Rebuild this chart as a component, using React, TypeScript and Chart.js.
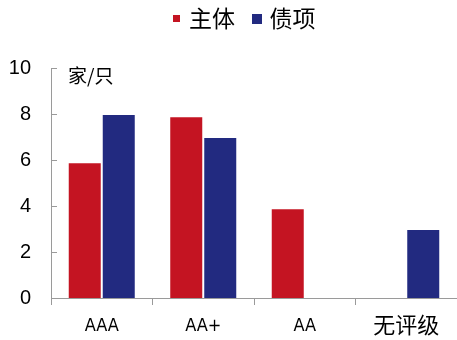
import React, { useEffect, useRef } from "react";
import { Chart, registerables } from "chart.js";

Chart.register(...registerables);

const categories = ["AAA", "AA+", "AA", "无评级"];
const seriesNames = ["主体", "债项"];
const issuerValues = [5.9, 7.9, 3.9, 0];
const bondValues = [8, 7, 0, 3];
const unitLabel = "家/只";

const RED = "#C41422";
const BLUE = "#222A80";
const AXIS = "#9a9a9a";
const FONT = "'Noto Sans CJK SC', 'Liberation Sans', sans-serif";

function swatch(color: string, size: number) {
  const c = document.createElement("canvas");
  c.width = size;
  c.height = size;
  const g = c.getContext("2d")!;
  g.fillStyle = color;
  g.fillRect(0, 0, size, size);
  return c;
}

const legendSpace = {
  id: "legendSpace",
  afterInit(chart: any) {
    const lg = chart.legend;
    if (!lg) return;
    const origFit = lg.fit;
    lg.fit = function () {
      origFit.call(this);
      this.height += 28;
    };
    const origDraw = lg.draw;
    lg.draw = function () {
      const ctx = this.ctx;
      ctx.save();
      ctx.translate(16, 0);
      origDraw.call(this);
      ctx.restore();
    };
  },
};

const innerTicks = {
  id: "innerTicks",
  afterDraw(chart: any) {
    const { ctx, scales, chartArea } = chart;
    const y = scales.y;
    ctx.save();
    ctx.strokeStyle = AXIS;
    ctx.lineWidth = 1;
    y.ticks.forEach((t: any) => {
      const py = Math.round(y.getPixelForValue(t.value)) + 0.5;
      ctx.beginPath();
      ctx.moveTo(chartArea.left, py);
      ctx.lineTo(chartArea.left + 6, py);
      ctx.stroke();
    });
    ctx.fillStyle = "#000";
    ctx.font = `19px ${FONT}`;
    ctx.textBaseline = "middle";
    ctx.textAlign = "left";
    ctx.fillText(unitLabel, chartArea.left + 17, y.getPixelForValue(9.68));
    ctx.restore();
  },
};

export default function App() {
  const ref = useRef<HTMLCanvasElement>(null);
  useEffect(() => {
    document.body.style.margin = "0";
    const swatches = [swatch(RED, 7), swatch(BLUE, 10)];
    const chart = new Chart(ref.current!, {
      type: "bar",
      data: {
        labels: categories,
        datasets: [
          {
            label: seriesNames[0],
            data: issuerValues,
            backgroundColor: RED,
            borderColor: "#ffffff",
            borderWidth: 1,
            categoryPercentage: 0.67,
            barPercentage: 1,
          },
          {
            label: seriesNames[1],
            data: bondValues,
            backgroundColor: BLUE,
            borderColor: "#ffffff",
            borderWidth: 1,
            categoryPercentage: 0.67,
            barPercentage: 1,
          },
        ],
      },
      options: {
        animation: false,
        responsive: false,
        maintainAspectRatio: false,
        layout: { padding: { top: -14, right: -2, left: 0, bottom: 0 } },
        plugins: {
          tooltip: { enabled: false },
          legend: {
            position: "top",
            labels: {
              usePointStyle: true,
              pointStyleWidth: 2,
              boxWidth: 2,
              boxHeight: 10,
              padding: 21,
              color: "#000",
              font: { size: 23, family: FONT },
              generateLabels(ch: any) {
                return ch.data.datasets.map((ds: any, i: number) => ({
                  text: ds.label,
                  fillStyle: ds.backgroundColor,
                  strokeStyle: ds.backgroundColor,
                  lineWidth: 0,
                  pointStyle: swatches[i],
                  hidden: false,
                  datasetIndex: i,
                }));
              },
            },
          },
        },
        scales: {
          x: {
            border: { display: true, color: AXIS, width: 1 },
            grid: {
              display: true,
              drawOnChartArea: false,
              drawTicks: true,
              tickLength: 7,
              color: AXIS,
              offset: true,
            },
            ticks: {
              color: "#000",
              padding: 6,
              font: (c: any) =>
                c.index === 3
                  ? { size: 22, family: FONT }
                  : { size: 18, lineHeight: 1.75, family: "'DejaVu Sans Condensed', 'DejaVu Sans', sans-serif" },
            },
            afterFit(scale: any) {
              scale.height = 42;
            },
          },
          y: {
            min: 0,
            max: 10,
            border: { display: true, color: AXIS, width: 1 },
            grid: { display: false, drawTicks: false },
            ticks: {
              stepSize: 2,
              color: "#000",
              padding: 20,
              font: { size: 20, family: "'Liberation Sans', sans-serif" },
            },
            afterFit(scale: any) {
              scale.width = 51;
            },
          },
        },
      },
      plugins: [legendSpace, innerTicks],
    });
    return () => chart.destroy();
  }, []);
  return (
    <div style={{ position: "absolute", left: 0, top: 0, width: 457, height: 340 }}>
      <canvas ref={ref} width={457} height={340} />
    </div>
  );
}
